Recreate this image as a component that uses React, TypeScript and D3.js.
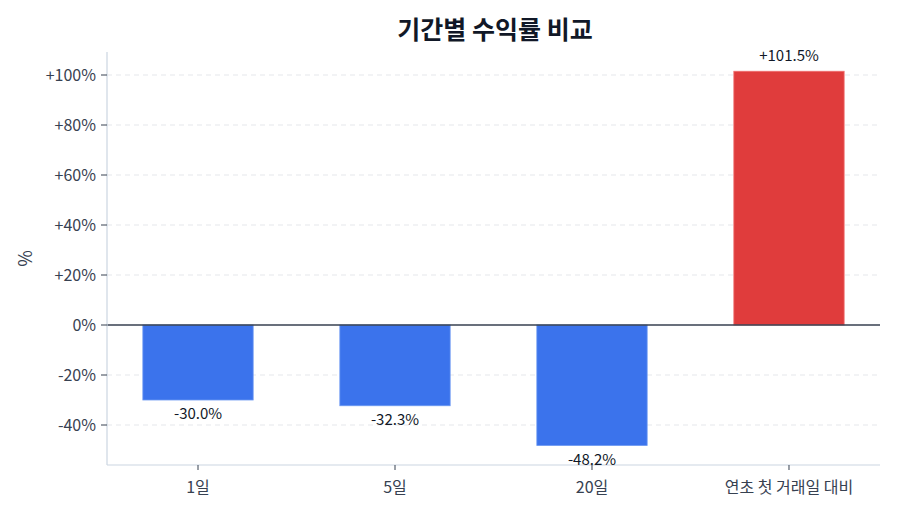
import React from 'react';
import * as d3 from 'd3';

const categories = ['1일', '5일', '20일', '연초 첫 거래일 대비'];
const returns = [-30.0, -32.3, -48.2, 101.5];
const yTicks = [-40, -20, 0, 20, 40, 60, 80, 100];

const W = 900;
const H = 514;
const margin = { top: 52, right: 20, bottom: 49, left: 107 };
const FONT = '"Noto Sans CJK KR", "Noto Sans", sans-serif';

const fmt = (v: number) => (v > 0 ? '+' : '') + v.toFixed(1) + '%';
const tickFmt = (v: number) => (v > 0 ? '+' : '') + v + '%';

export default function App() {
    const x = d3.scaleLinear()
        .domain([-0.462, categories.length - 1 + 0.462])
        .range([margin.left, W - margin.right]);
    const y = d3.scaleLinear()
        .domain([-56, 109.2])
        .range([H - margin.bottom, margin.top]);

    const barW = x(0.56) - x(0);
    const x0 = margin.left;
    const x1 = W - margin.right;
    const yb = H - margin.bottom;

    return (
        <svg width={W} height={H} style={{ display: 'block', margin: -8, fontFamily: FONT }}>
            <rect width={W} height={H} fill="#ffffff" />
            <text x={495} y={39} textAnchor="middle" fontSize={25} fontWeight={700} fill="#111827">
                기간별 수익률 비교
            </text>

            {/* grid */}
            {yTicks.filter(t => t !== 0).map(t => (
                <line key={t} x1={x0} x2={x1} y1={y(t)} y2={y(t)}
                    stroke="#e5e7eb" strokeWidth={1} strokeDasharray="5,4" />
            ))}

            {/* bars */}
            {returns.map((v, i) => (
                <rect key={i}
                    x={x(i) - barW / 2}
                    y={Math.min(y(v), y(0))}
                    width={barW}
                    height={Math.abs(y(v) - y(0))}
                    fill={v >= 0 ? '#e03c3c' : '#3b73ec'}
                    stroke={v >= 0 ? '#f07070' : '#6b98f2'}
                    strokeWidth={0.8}
                />
            ))}

            {/* zero line */}
            <line x1={x0} x2={x1} y1={y(0)} y2={y(0)} stroke="#374151" strokeWidth={1.6} />

            {/* spines */}
            <line x1={x0} x2={x0} y1={margin.top} y2={yb} stroke="#cbd5e1" strokeWidth={1.2} />
            <line x1={x0} x2={x1} y1={yb} y2={yb} stroke="#cbd5e1" strokeWidth={1.2} />

            {/* y ticks */}
            {yTicks.map(t => (
                <g key={t}>
                    <line x1={x0 - 6} x2={x0} y1={y(t)} y2={y(t)} stroke="#374151" strokeWidth={1} />
                    <text x={x0 - 11} y={y(t)} dy="0.36em" textAnchor="end" fontSize={16} fill="#374151">
                        {tickFmt(t)}
                    </text>
                </g>
            ))}

            {/* x ticks */}
            {categories.map((c, i) => (
                <g key={c}>
                    <line x1={x(i)} x2={x(i)} y1={yb} y2={yb + 5} stroke="#374151" strokeWidth={1} />
                    <text x={x(i)} y={yb + 28} textAnchor="middle" fontSize={16} fill="#374151">{c}</text>
                </g>
            ))}

            {/* value labels */}
            {returns.map((v, i) => (
                <text key={i} x={x(i)} y={v >= 0 ? y(v) - 10 : y(v) + 19}
                    textAnchor="middle" fontSize={15} fill="#111827">
                    {fmt(v)}
                </text>
            ))}

            <text transform={`translate(32,${(margin.top + yb) / 2}) rotate(-90)`}
                textAnchor="middle" fontSize={18} fill="#374151">%</text>
        </svg>
    );
}
